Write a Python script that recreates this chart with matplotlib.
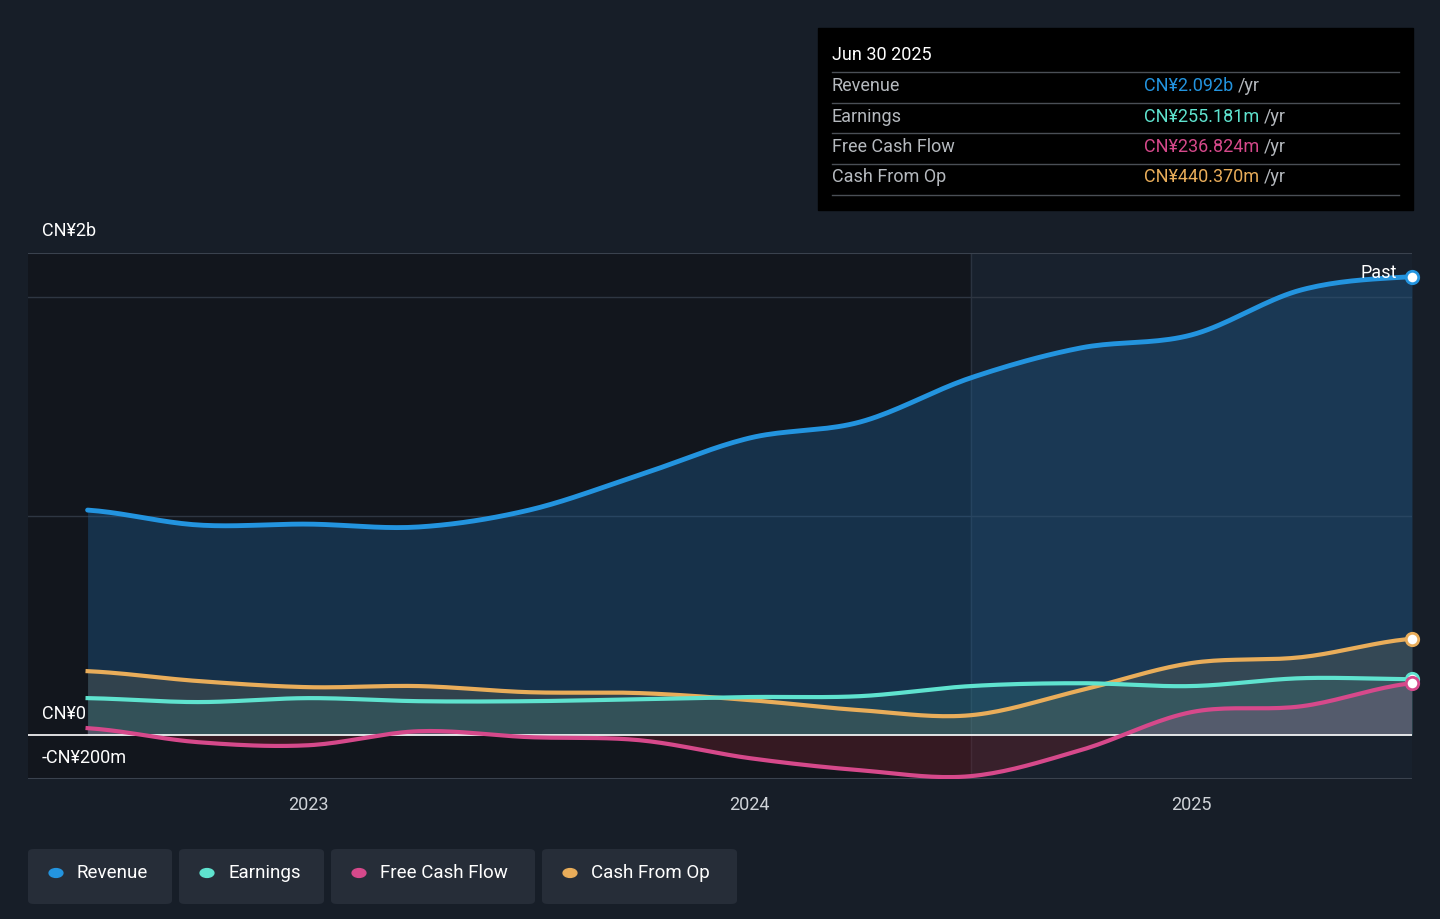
import numpy as np
import matplotlib
matplotlib.use("Agg")
import matplotlib.pyplot as plt
from matplotlib.patches import FancyBboxPatch, Rectangle

plt.rcParams['font.family'] = ['Roboto', 'DejaVu Sans']

quarters = [2022.5 + 0.25 * i for i in range(13)]
revenue = [1.027, 0.959, 0.963, 0.950, 1.027, 1.187, 1.356, 1.429, 1.630, 1.767, 1.826, 2.032, 2.092]
earnings = [0.169, 0.151, 0.169, 0.155, 0.155, 0.164, 0.174, 0.178, 0.224, 0.237, 0.224, 0.260, 0.255]
fcf = [0.032, -0.032, -0.046, 0.018, -0.009, -0.023, -0.105, -0.160, -0.187, -0.068, 0.105, 0.132, 0.237]
cfo = [0.292, 0.247, 0.219, 0.224, 0.196, 0.192, 0.160, 0.114, 0.091, 0.205, 0.329, 0.356, 0.440]
year_ticks = [2023, 2024, 2025]
series_names = ["Revenue", "Earnings", "Free Cash Flow", "Cash From Op"]
colors = ["#2394df", "#5fe3cf", "#d6498b", "#e9ad5a"]
tip_values = ["CN¥2.092b", "CN¥255.181m", "CN¥236.824m", "CN¥440.370m"]

def smooth(x, y, n=20):
    x = np.asarray(x, float); y = np.asarray(y, float)
    xs, ys = [], []
    for i in range(len(x) - 1):
        p0 = y[max(i - 1, 0)]; p1 = y[i]; p2 = y[i + 1]; p3 = y[min(i + 2, len(y) - 1)]
        t = np.linspace(0, 1, n, endpoint=False)
        ys.append(0.5 * ((2 * p1) + (-p0 + p2) * t + (2 * p0 - 5 * p1 + 4 * p2 - p3) * t**2 + (-p0 + 3 * p1 - 3 * p2 + p3) * t**3))
        xs.append(x[i] + (x[i + 1] - x[i]) * t)
    xs.append([x[-1]]); ys.append([y[-1]])
    return np.concatenate(xs), np.concatenate(ys)

bg = "#171e28"
fig = plt.figure(figsize=(14.4, 9.19), dpi=100, facecolor=bg)
ax = fig.add_axes([28/1440, 140/919, 1384/1440, 526/919])
ax.set_facecolor(bg)
xmin, xmax = 2022.365, 2025.5
ax.set_xlim(xmin, xmax); ax.set_ylim(-0.2, 2.2)
ax.axvspan(xmin, 2024.5, color="#12161d", zorder=0)
ax.axvspan(2024.5, xmax, color="#18212d", zorder=0)
ax.axvline(2024.5, color="#2a3340", lw=1, zorder=1)
for v in [1.0, 2.0]:
    ax.axhline(v, color="#2e3642", lw=1, zorder=1)
ax.axhline(0, color="#ffffff", lw=1.2, zorder=4)
ax.axhline(2.2, color="#3a424e", lw=1.5, zorder=1)
ax.axhline(-0.2, color="#3a424e", lw=1.5, zorder=1)

xs, ys = smooth(quarters, revenue)
ax.fill_between(xs, 0, ys, color="#1f5f94", alpha=0.38, lw=0, zorder=2)
ax.plot(xs, ys, color=colors[0], lw=3.5, zorder=5, solid_capstyle="round")
xs, ys = smooth(quarters, cfo)
ax.fill_between(xs, 0, ys, color="#a08a5a", alpha=0.2, lw=0, zorder=2)
ax.plot(xs, ys, color=colors[3], lw=3, zorder=5)
xs, ys = smooth(quarters, earnings)
ax.fill_between(xs, 0, ys, color="#3f8f87", alpha=0.2, lw=0, zorder=2)
ax.plot(xs, ys, color=colors[1], lw=3, zorder=5)
xs, ys = smooth(quarters, fcf)
ax.fill_between(xs, 0, ys, where=ys < 0, color="#6a1f2a", alpha=0.4, lw=0, zorder=2, interpolate=True)
ax.fill_between(xs, 0, ys, where=ys >= 0, color="#b06a99", alpha=0.25, lw=0, zorder=2, interpolate=True)
ax.plot(xs, ys, color=colors[2], lw=3, zorder=5)

for vals, c in zip([revenue, earnings, fcf, cfo], colors):
    ax.scatter([quarters[-1]], [vals[-1]], s=80, facecolor="white", edgecolor=c, lw=2, zorder=6, clip_on=False)

ax.set_xticks(year_ticks)
ax.set_xticklabels([str(y) for y in year_ticks])
ax.tick_params(axis="x", colors="#cfd3d8", labelsize=13, length=0, pad=12)
ax.set_yticks([])
for s in ax.spines.values():
    s.set_visible(False)

fig.text(42/1440, 1 - 231/919, "CN¥2b", color="white", fontsize=13, va="center")
fig.text(42/1440, 1 - 714/919, "CN¥0", color="white", fontsize=13, va="center")
fig.text(42/1440, 1 - 758/919, "-CN¥200m", color="white", fontsize=13, va="center")
fig.text(1397/1440, 1 - 273/919, "Past", color="white", fontsize=13, va="center", ha="right")

fig.patches.append(Rectangle((818/1440, 1 - 210/919), 595/1440, 182/919, transform=fig.transFigure, color="black", zorder=10))
fig.text(832/1440, 1 - 55/919, "Jun 30 2025", color="white", fontsize=13, va="center", zorder=11)
fig.canvas.draw()
r = fig.canvas.get_renderer()
for i, (nm, val, c) in enumerate(zip(series_names, tip_values, colors)):
    yc = 86 + 30.5 * i
    fig.lines.append(plt.Line2D([832/1440, 1399/1440], [1 - (yc - 14)/919] * 2, transform=fig.transFigure, color="#4a4f56", lw=1, zorder=11))
    fig.text(832/1440, 1 - yc/919, nm, color="#b5b9be", fontsize=13, va="center", zorder=11)
    t = fig.text(1144/1440, 1 - yc/919, val, color=c, fontsize=13, va="center", zorder=11)
    bb = t.get_window_extent(r)
    fig.text((bb.x1 + 5)/1440, 1 - yc/919, "/yr", color="#b5b9be", fontsize=13, va="center", zorder=11)
fig.lines.append(plt.Line2D([832/1440, 1399/1440], [1 - 195/919] * 2, transform=fig.transFigure, color="#4a4f56", lw=1, zorder=11))

pills = [(28, 172), (179, 324), (331, 535), (542, 737)]
for (x0, x1), nm, c in zip(pills, series_names, colors):
    fig.patches.append(FancyBboxPatch((x0/1440, 1 - 904/919), (x1 - x0)/1440, 55/919, boxstyle="round,pad=0,rounding_size=0.004",
                                      transform=fig.transFigure, facecolor="#262d38", edgecolor="none"))
    fig.patches.append(plt.Circle(((x0 + 28)/1440, 1 - 873/919), 0.0048, transform=fig.transFigure, color=c))
    fig.text((x0 + 49)/1440, 1 - 873/919, nm, color="white", fontsize=13.5, va="center")

fig.savefig("out.png", dpi=100, facecolor=bg)
